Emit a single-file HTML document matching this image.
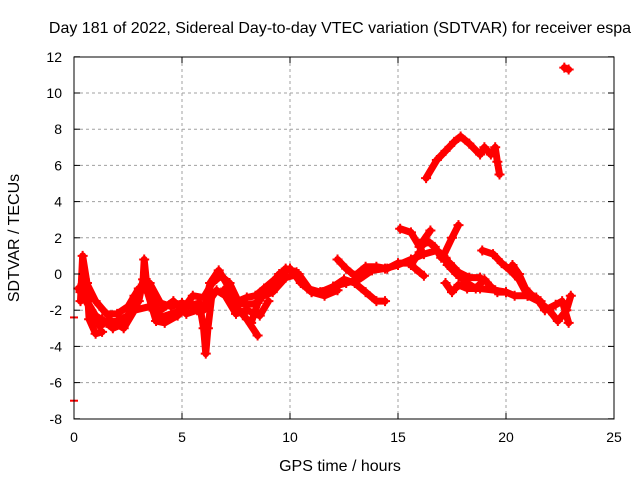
<!DOCTYPE html>
<html><head><meta charset="utf-8"><style>
body{margin:0;background:#fff}
svg{display:block;font-family:"Liberation Sans",sans-serif}
</style></head><body>
<svg id="chart" width="640" height="480" viewBox="0 0 640 480" xmlns="http://www.w3.org/2000/svg">
<rect width="640" height="480" fill="#fff"/>
<text x="340" y="33" font-size="16" text-anchor="middle">Day 181 of 2022, Sidereal Day-to-day VTEC variation (SDTVAR) for receiver espa</text>
<g id="grid"></g>
<g id="series"></g>
<rect x="74" y="57" width="540" height="362" fill="none" stroke="#000" stroke-width="1"/>
<g id="ticks"></g>
<text x="340" y="471" font-size="16" text-anchor="middle">GPS time / hours</text>
<text x="0" y="0" font-size="16" text-anchor="middle" transform="translate(19,238) rotate(-90)">SDTVAR / TECUs</text>
</svg>
<script>
const xTicks=[0,5,10,15,20,25];
const yTicks=[-8,-6,-4,-2,0,2,4,6,8,10,12];
const trackA=[[0.2,-0.8],[0.6,-1.5],[1,-2.3],[1.5,-2.7],[2,-2.6],[2.5,-2.3],[2.8,-1.2],[3.2,-0.7],[3.6,-1.3],[4,-2.4],[4.5,-2.2],[5,-2],[5.5,-1.2],[6,-1.3],[6.4,-0.5],[6.8,-0.1],[7.2,-0.5],[7.6,-1.5],[8,-1.3],[8.4,-1.2],[8.8,-0.8],[9.4,-0.2],[9.8,0.3],[10.3,0.1],[10.8,-0.8],[11.4,-1],[12,-0.7],[12.6,-0.5],[13.2,-0.3],[13.8,0.2],[14.4,0.3],[15,0.5],[15.6,0.8],[16.2,1.1],[16.8,1.3],[17.2,0.9]];
const trackB=[[0.3,-1.5],[0.4,1],[0.6,-0.5],[0.7,-2.5],[1,-3.3],[1.3,-3.2]];
const trackC=[[1.3,-2.5],[1.8,-3],[2.2,-2.8],[2.6,-2.2],[3,-1.5],[3.2,-0.3],[3.25,0.8],[3.4,-1],[3.8,-2.6],[4.2,-2.7],[4.8,-2.3],[5.2,-1.8],[5.8,-1.6],[6,-3],[6.1,-4.4],[6.2,-3],[6.4,-1]];
const trackD=[[7,-0.8],[7.5,-1.8],[8,-2.5],[8.5,-3.4]];
const trackE=[[8.2,-2.7],[8.6,-1.3],[9.2,-1],[9.8,-0.2],[10.4,0],[11,-1],[11.6,-1.2],[12.2,-0.9]];
const trackF=[[11.5,-1],[12,-0.7],[12.5,-0.3],[13,-0.5],[13.5,-1],[14,-1.5],[14.4,-1.5]];
const trackG=[[12.2,0.8],[12.6,0.3],[13,-0.1],[13.5,0.4],[14,0.4],[14.5,0.3],[15,0.6],[15.5,0.6],[15.8,0.3],[16.2,-0.1]];
const trackH=[[15.1,2.5],[15.6,2.3],[16,1.5],[16.4,1.8],[16.7,1.5],[17,0.9],[17.4,0.6],[17.8,0.1],[18.3,-0.2],[18.8,-0.2]];
const trackI=[[16.5,2.4],[16.2,1.9],[16,1.2],[15.6,0.5]];
const trackJ=[[17.8,2.7],[17.5,2],[17.1,1],[17.3,0.5],[17.7,0],[18.2,-0.5],[18.6,-0.8],[19,-0.3],[19.3,-0.7],[19.6,-1],[20,-1]];
const trackK=[[17.2,-0.5],[17.5,-1],[17.8,-0.6],[18.2,-0.8],[18.8,-0.8],[19.5,-0.9],[20,-1],[20.4,-1.2],[21,-1.2],[21.5,-1.5],[22,-2],[22.4,-2.6],[22.8,-2],[23,-1.2]];
const trackL=[[18.9,1.3],[19.4,1.1],[19.8,0.6],[20.2,0.2],[20.6,-0.3],[21,-1.2],[21.4,-1.3],[21.8,-2],[22.3,-1.7],[22.6,-1.5],[22.9,-2.7]];
const trackM=[[20.3,0.5],[20.6,0],[20.9,-0.8],[21.3,-1.3],[21.6,-1.5]];
const trackN=[[16.3,5.3],[16.8,6.3],[17.2,6.8],[17.6,7.3],[17.9,7.6],[18.3,7.2],[18.8,6.6],[19,7],[19.3,6.6],[19.5,7],[19.6,6.2],[19.7,5.5]];
const trackO=[[22.7,11.4],[22.9,11.3]];
const trackP=[[0.5,-0.3],[1,-1.5],[1.5,-2.2],[2,-2.2],[2.5,-1.8],[3,-0.8],[3.5,-0.5],[4,-1.6],[4.5,-1.8],[5,-1.6],[5.5,-1.8],[6,-2],[6.3,-0.5],[6.7,0.2],[7.2,-0.8],[7.6,-1.6],[8,-1.7],[8.5,-1.6],[9,-0.8],[9.5,0],[10,0.3],[10.5,-0.5],[11,-1]];
const trackQ=[[0.3,-1],[0.8,-2],[1.2,-2.9],[1.6,-2.5],[2.3,-3],[2.8,-2],[3.5,-1.8],[4,-2],[4.6,-1.5],[5.2,-2.2],[5.7,-2],[6.2,-1.6],[6.6,-0.9],[7,-1.2],[7.5,-2.2],[8,-2],[8.6,-2.3],[9,-1.5]];
const singles=[[0,-2.4],[0,-7]];
const tracks=[trackA,trackB,trackC,trackD,trackE,trackF,trackG,trackH,trackI,trackJ,trackK,trackL,trackM,trackN,trackO,trackP,trackQ];
const NS="http://www.w3.org/2000/svg";
const X=h=>74+h*21.6, Y=v=>274-v*18.1;
const grid=document.getElementById('grid'), tk=document.getElementById('ticks'), ser=document.getElementById('series');
function mk(tag,attrs,parent){const e=document.createElementNS(NS,tag);for(const k in attrs)e.setAttribute(k,attrs[k]);parent.appendChild(e);return e;}
xTicks.forEach(t=>{
  if(t>0&&t<25){const g=mk('line',{x1:X(t),x2:X(t),y1:57,y2:419,stroke:'#a0a0a0','stroke-dasharray':'3,3'},grid);
  
  }
  const l=mk('text',{x:X(t),y:442,'font-size':14,'text-anchor':'middle'},tk);l.textContent=t;
  
  
  mk('line',{x1:X(t),x2:X(t),y1:419,y2:413,stroke:'#000'},tk);
  mk('line',{x1:X(t),x2:X(t),y1:57,y2:63,stroke:'#000'},tk);
});
yTicks.forEach(t=>{
  if(t>-8&&t<12){const g=mk('line',{x1:74,x2:614,y1:Y(t),y2:Y(t),stroke:'#a0a0a0','stroke-dasharray':'3,3'},grid);
  
  }
  const l=mk('text',{x:62,y:Y(t)+5,'font-size':14,'text-anchor':'end'},tk);l.textContent=t;
  
  
  mk('line',{x1:74,x2:80,y1:Y(t),y2:Y(t),stroke:'#000'},tk);
  mk('line',{x1:608,x2:614,y1:Y(t),y2:Y(t),stroke:'#000'},tk);
});
tracks.forEach((tr,i)=>{
  const p=mk('polyline',{points:tr.map(d=>X(d[0])+','+Y(d[1])).join(' '),fill:'none',stroke:'#f00','stroke-width':7,'stroke-linejoin':'round','stroke-linecap':'round'},ser);
  
  
  tr.forEach(d=>{
    const m=mk('path',{d:`M${X(d[0])-5},${Y(d[1])}h10M${X(d[0])},${Y(d[1])-5}v10`,stroke:'#f00','stroke-width':2},ser);
    
    
  });
});
singles.forEach(d=>{
  const m=mk('path',{d:`M${X(d[0])-4},${Y(d[1])}h8`,stroke:'#f00','stroke-width':2},ser);
  
  
});
</script>
</body></html>
